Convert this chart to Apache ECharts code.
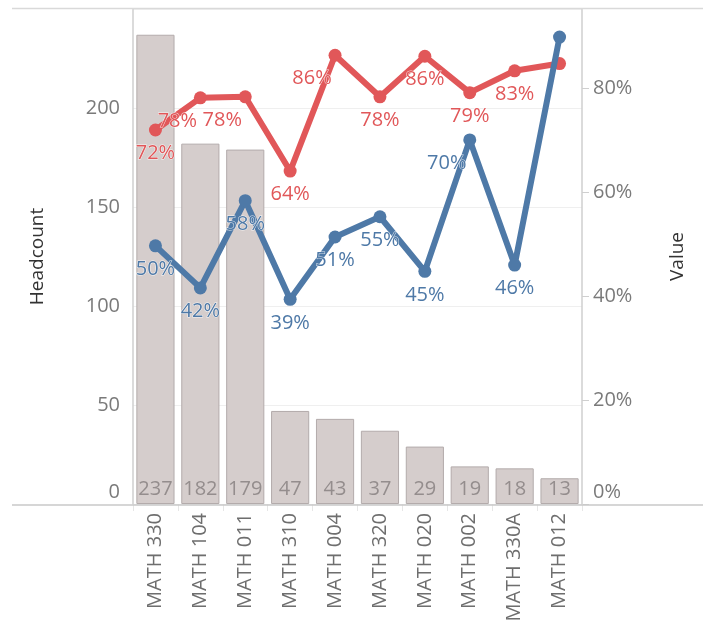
<!DOCTYPE html>
<html><head><meta charset="utf-8">
<script src="https://cdn.jsdelivr.net/npm/echarts@6/dist/echarts.min.js"></script>
<style>html,body{margin:0;padding:0;background:#fff}#c{width:707px;height:628px}</style>
</head><body><div id="c"></div>
<script>
var categories = ['MATH 330','MATH 104','MATH 011','MATH 310','MATH 004','MATH 320','MATH 020','MATH 002','MATH 330A','MATH 012'];
var headcount = [237,182,179,47,43,37,29,19,18,13];
var redValues = [0.72,0.782,0.784,0.641,0.864,0.784,0.862,0.792,0.834,0.848];
var blueValues = [0.497,0.416,0.584,0.394,0.514,0.553,0.448,0.701,0.46,0.899];
var leftTicks = [0,50,100,150,200];
var rightTicks = [0,0.2,0.4,0.6,0.8];

// label placement: 'b' below, 'bl' below-left, '' none
var redPlace = ['b','bl','bl','b','bl','b','b','b','b',''];
var bluePlace = ['b','b','b','b','b','b','b','bl','b',''];

var FONT = '"Open Sans", sans-serif';
var RED = '#e15759', BLUE = '#4e79a7';
var AXC = '#7a7a7a';

function lineData(vals, place, color) {
  return vals.map(function (v, i) {
    var p = place[i];
    return {
      value: v,
      label: {
        show: p !== '',
        position: 'bottom',
        distance: 7,
        offset: [p === 'bl' ? -23 : 0, 0],
        formatter: function (d) { return Math.round(d.value * 100) + '%'; },
        color: color,
        fontSize: 20,
        fontFamily: FONT,
        textBorderColor: 'rgba(255,255,255,0.8)',
        textBorderWidth: 1
      }
    };
  });
}

var chart = echarts.init(document.getElementById('c'));
chart.setOption({
  animation: false,
  textStyle: { fontFamily: FONT },
  grid: { left: 133, right: 125, top: 9, bottom: 124 },
  graphic: [
    { type: 'line', shape: { x1: 12, y1: 8.5, x2: 703, y2: 8.5 }, style: { stroke: '#d9d9d9', lineWidth: 1.5 }, z: 1 },
    { type: 'line', shape: { x1: 12, y1: 505, x2: 703, y2: 505 }, style: { stroke: '#c8c8c8', lineWidth: 1.5 }, z: 100 }
  ],
  xAxis: {
    type: 'category',
    data: categories,
    axisLine: { show: false },
    axisTick: { show: true, length: 7, lineStyle: { color: '#e6e6e6' } },
    axisLabel: { rotate: 90, margin: 9, fontSize: 20, color: '#6e6e6e', fontFamily: FONT }
  },
  yAxis: [
    {
      type: 'value', min: 0, max: 250, interval: 50,
      name: 'Headcount', nameLocation: 'middle', nameGap: 86, nameRotate: 90,
      nameTextStyle: { fontSize: 19, color: '#333', fontFamily: FONT },
      axisLine: { show: true, lineStyle: { color: '#cfcfcf', width: 1.5 } },
      axisTick: { show: false },
      splitLine: { show: true, lineStyle: { color: '#efefef', width: 1 } },
      axisLabel: {
        showMaxLabel: false, margin: 13, fontSize: 20, color: AXC, fontFamily: FONT,
        formatter: function (v) { return v === leftTicks[0] ? '{z|' + v + '}' : String(v); },
        rich: { z: { padding: [0, 0, 24, 0], fontSize: 20, color: AXC, fontFamily: FONT } }
      }
    },
    {
      type: 'value', min: 0, max: 0.953, interval: 0.2,
      name: 'Value', nameLocation: 'middle', nameGap: 86, nameRotate: 90,
      nameTextStyle: { fontSize: 19, color: '#333', fontFamily: FONT },
      axisLine: { show: true, lineStyle: { color: '#cfcfcf', width: 1.5 } },
      axisTick: { show: true, length: 7, lineStyle: { color: '#cfcfcf' } },
      splitLine: { show: false },
      axisLabel: {
        showMaxLabel: false, margin: 11, fontSize: 20, color: AXC, fontFamily: FONT,
        formatter: function (v) {
          var s = Math.round(v * 100) + '%';
          return v === rightTicks[0] ? '{z|' + s + '}' : s;
        },
        rich: { z: { padding: [0, 0, 24, 0], fontSize: 20, color: AXC, fontFamily: FONT } }
      }
    }
  ],
  series: [
    {
      type: 'bar', yAxisIndex: 0, data: headcount, barWidth: '85%',
      itemStyle: { color: '#d5cdcc', borderColor: '#b3abab', borderWidth: 1 },
      label: { show: true, position: 'insideBottom', distance: 5, fontSize: 20, color: '#948d8d', fontFamily: FONT }
    },
    {
      type: 'line', yAxisIndex: 1, data: lineData(redValues, redPlace, RED),
      lineStyle: { color: RED, width: 6 }, itemStyle: { color: RED },
      symbol: 'circle', symbolSize: 13, z: 3
    },
    {
      type: 'line', yAxisIndex: 1, data: lineData(blueValues, bluePlace, BLUE),
      lineStyle: { color: BLUE, width: 6 }, itemStyle: { color: BLUE },
      symbol: 'circle', symbolSize: 13, z: 4
    }
  ]
});
</script>
</body></html>
